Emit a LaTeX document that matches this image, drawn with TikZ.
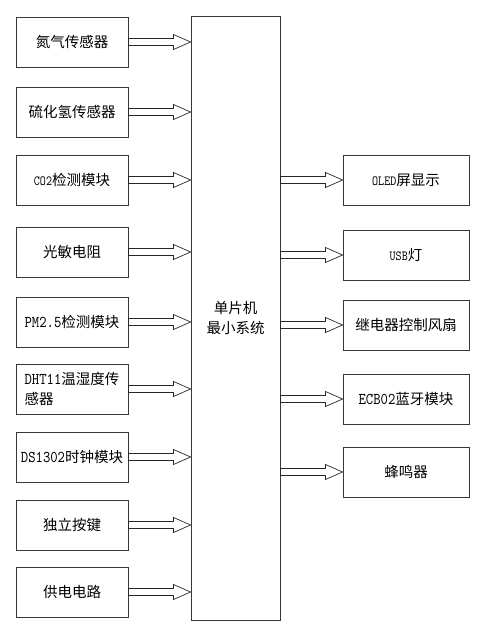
\documentclass[tikz,border=0pt]{standalone}
\usepackage{fontspec}
\setmainfont{Noto Sans CJK SC}
\newfontfamily\lmtA[FakeStretch=0.85]{lmmono10-regular.otf}
\newfontfamily\lmtB[FakeStretch=0.82]{lmmono10-regular.otf}
\usetikzlibrary{calc}
\newcommand\lt[1]{{\lmtA\fontsize{16.5}{20}\selectfont #1}}
\newcommand\ls[1]{{\lmtB\fontsize{14}{20}\selectfont #1}}
\newcommand\hollowarr[2]{\draw[hollow] let \p1=(#1), \p2=(#2) in
  ({\x1},{\y1+3.5pt}) -- ({\x2-17pt},{\y1+3.5pt}) -- ({\x2-17pt},{\y1+7.5pt}) --
  ({\x2},{\y1}) -- ({\x2-17pt},{\y1-7.5pt}) -- ({\x2-17pt},{\y1-3.5pt}) --
  ({\x1},{\y1-3.5pt}) -- cycle;}
\begin{document}
\begin{tikzpicture}[x=1pt,y=-1pt,
  box/.style={draw=black!78,line width=0.9pt,inner sep=0pt,align=center,
    font=\fontsize{14.5}{20}\selectfont},
  lbox/.style={box,minimum width=112pt,minimum height=50pt},
  rbox/.style={box,minimum width=126pt,minimum height=50pt},
  hollow/.style={draw=black!85,line width=0.7pt,fill=white}]
\useasboundingbox (0,0) rectangle (484,624);
\node[box,minimum width=89pt,minimum height=604pt] (mcu) at (235.5,318) {单片机\\最小系统};
\node[lbox] (l1) at (72,42) {氮气传感器};
\node[lbox] (l2) at (72,112) {硫化氢传感器};
\node[lbox] (l3) at (72,180) {\ls{CO2}检测模块};
\node[lbox] (l4) at (72,252) {光敏电阻};
\node[lbox] (l5) at (72,322) {\lt{PM2.5}检测模块};
\node[lbox,align=left] (l6) at (72,389) {\lt{DHT11}温湿度传\\感器};
\node[lbox] (l7) at (72,457) {\lt{DS1302}时钟模块};
\node[lbox] (l8) at (72,525) {独立按键};
\node[lbox] (l9) at (72,592) {供电电路};
\node[rbox] (r1) at (406,180) {\ls{OLED}屏显示};
\node[rbox] (r2) at (406,255) {\ls{USB}灯};
\node[rbox] (r3) at (406,325) {继电器控制风扇};
\node[rbox] (r4) at (406,399) {\lt{ECB02}蓝牙模块};
\node[rbox] (r5) at (406,472) {蜂鸣器};
\foreach \k in {l1,l2,l3,l4,l5,l6,l7,l8,l9}{\hollowarr{\k.east}{\k.east -| mcu.west}}
\foreach \k in {r1,r2,r3,r4,r5}{\hollowarr{\k.west -| mcu.east}{\k.west}}
\end{tikzpicture}
\end{document}
